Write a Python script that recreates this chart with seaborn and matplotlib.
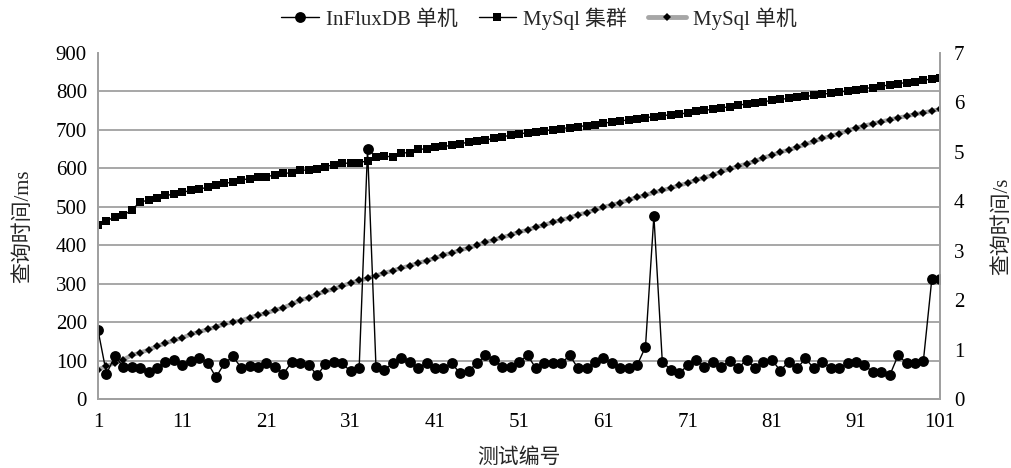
import matplotlib
matplotlib.use("Agg")
import matplotlib.pyplot as plt
from matplotlib.lines import Line2D
from matplotlib.ticker import FixedLocator
import numpy as np
import pandas as pd
import seaborn as sns

# ---------------- data ----------------
test_ids = list(range(1, 102))

influx_ms = [179, 66, 112, 84, 84, 80, 71, 82, 97, 101,
             88, 98, 108, 95, 57, 93, 111, 82, 86, 83,
             93, 84, 66, 96, 93, 90, 62, 91, 97, 93,
             72, 80, 650, 84, 77, 93, 108, 97, 82, 93,
             80, 80, 93, 67, 74, 93, 114, 103, 84, 84,
             97, 114, 80, 94, 93, 93, 114, 80, 80, 97,
             106, 93, 80, 80, 88, 136, 476, 97, 77, 67,
             88, 103, 84, 97, 84, 100, 80, 103, 80, 97,
             103, 74, 97, 80, 106, 80, 97, 82, 80, 93,
             97, 88, 71, 71, 62, 114, 94, 94, 100, 312,
             312]

mysql_cluster_s = [3.52, 3.60, 3.69, 3.72, 3.82, 3.99, 4.02, 4.07, 4.12, 4.14,
                   4.18, 4.22, 4.25, 4.28, 4.32, 4.36, 4.39, 4.43, 4.46, 4.50,
                   4.50, 4.53, 4.57, 4.57, 4.63, 4.63, 4.66, 4.70, 4.74, 4.77,
                   4.77, 4.78, 4.82, 4.89, 4.92, 4.89, 4.98, 4.98, 5.05, 5.06,
                   5.09, 5.11, 5.13, 5.16, 5.20, 5.22, 5.24, 5.27, 5.30, 5.34,
                   5.37, 5.38, 5.41, 5.43, 5.44, 5.47, 5.49, 5.51, 5.53, 5.55,
                   5.58, 5.60, 5.62, 5.65, 5.66, 5.69, 5.71, 5.73, 5.75, 5.76,
                   5.79, 5.82, 5.84, 5.86, 5.89, 5.91, 5.94, 5.97, 5.99, 6.01,
                   6.04, 6.06, 6.08, 6.10, 6.12, 6.14, 6.17, 6.18, 6.21, 6.23,
                   6.25, 6.28, 6.30, 6.33, 6.35, 6.38, 6.40, 6.42, 6.45, 6.47,
                   6.49]

mysql_single_s = [0.60, 0.67, 0.73, 0.80, 0.89, 0.94, 1.00, 1.07, 1.13, 1.19,
                  1.24, 1.31, 1.36, 1.41, 1.46, 1.52, 1.56, 1.59, 1.65, 1.70,
                  1.74, 1.80, 1.85, 1.92, 2.00, 2.05, 2.12, 2.18, 2.23, 2.29,
                  2.35, 2.40, 2.44, 2.50, 2.55, 2.60, 2.65, 2.70, 2.75, 2.80,
                  2.85, 2.91, 2.96, 3.01, 3.06, 3.11, 3.17, 3.22, 3.27, 3.32,
                  3.38, 3.42, 3.48, 3.52, 3.58, 3.62, 3.67, 3.73, 3.77, 3.83,
                  3.88, 3.93, 3.97, 4.03, 4.08, 4.12, 4.18, 4.22, 4.27, 4.32,
                  4.37, 4.43, 4.48, 4.53, 4.60, 4.65, 4.71, 4.76, 4.81, 4.88,
                  4.93, 4.99, 5.04, 5.09, 5.15, 5.21, 5.27, 5.32, 5.37, 5.43,
                  5.48, 5.53, 5.57, 5.61, 5.65, 5.69, 5.72, 5.76, 5.79, 5.83,
                  5.86]

x_ticks = [1, 11, 21, 31, 41, 51, 61, 71, 81, 91, 101]
left_ticks = [0, 100, 200, 300, 400, 500, 600, 700, 800, 900]
right_ticks = [0, 1, 2, 3, 4, 5, 6, 7]

series_names = ["InFluxDB 单机", "MySql 集群", "MySql 单机"]
x_label = "测试编号"
left_label = "查询时间/ms"
right_label = "查询时间/s"

df = pd.DataFrame({"id": test_ids, "influx": influx_ms,
                   "cluster": mysql_cluster_s, "single": mysql_single_s})

# ---------------- style ----------------
sns.set_style("white")
plt.rcParams["font.family"] = ["Liberation Serif", "Noto Sans CJK SC"]
plt.rcParams["axes.unicode_minus"] = False

FS = 15
GRID = "#a0a0a0"

fig = plt.figure(figsize=(10.11, 4.68), dpi=100)
ax = fig.add_axes([0.097, 0.147, 0.833, 0.740])
ax2 = ax.twinx()

# MySql series on right axis (seconds)
sns.lineplot(data=df, x="id", y="single", ax=ax2, color="#a6a6a6", lw=3.0,
             marker="D", markersize=4.4, markerfacecolor="black",
             markeredgecolor="black", markeredgewidth=0)
sns.lineplot(data=df, x="id", y="cluster", ax=ax2, color="black", lw=1.0,
             marker="s", markersize=5.6, markerfacecolor="black",
             markeredgecolor="black", markeredgewidth=0)
# InFluxDB on left axis (ms)
sns.lineplot(data=df, x="id", y="influx", ax=ax, color="black", lw=1.0,
             marker="o", markersize=7.8, markerfacecolor="black",
             markeredgecolor="black", markeredgewidth=0)

# put InFlux above the MySql axes
ax.set_zorder(ax2.get_zorder() + 1)
ax.patch.set_visible(False)

ax.set_xlim(1, 101)
ax.set_ylim(0, 900)
ax2.set_ylim(0, 7)
ax.set_xticks(x_ticks)
ax.set_yticks(left_ticks)
ax2.set_yticks(right_ticks)

# gridlines (at left-axis hundreds) drawn on the lower axes
ax.grid(False)
ax2.grid(False)
ax2.yaxis.set_minor_locator(FixedLocator([v * 7 / 900 for v in left_ticks]))
ax2.grid(which="minor", axis="y", color=GRID, lw=1.3)
ax2.tick_params(which="minor", length=0)

for a in (ax, ax2):
    for s in a.spines.values():
        s.set_color(GRID)
        s.set_linewidth(1.3)
    a.spines["top"].set_visible(False)
    a.tick_params(length=0, labelsize=FS, colors="black")
ax.tick_params(axis="y", pad=8)
ax2.tick_params(axis="y", pad=10)
ax.tick_params(axis="x", pad=10)

ax.set_xlabel(x_label, fontsize=FS, labelpad=12)
ax.set_ylabel(left_label, fontsize=FS, labelpad=16)
ax2.set_ylabel(right_label, fontsize=FS, labelpad=20)

handles = [
    Line2D([], [], color="black", lw=1.0, marker="o", markersize=7.8,
           markeredgewidth=0),
    Line2D([], [], color="black", lw=1.0, marker="s", markersize=5.6,
           markeredgewidth=0),
    Line2D([], [], color="#a6a6a6", lw=3.5, marker="D", markersize=4.4,
           markerfacecolor="black", markeredgewidth=0),
]
fig.legend(handles, series_names, loc="upper center",
           bbox_to_anchor=(0.533, 1.025), ncol=3, frameon=False,
           fontsize=FS, handlelength=1.8, handletextpad=0.35,
           columnspacing=1.0)

fig.savefig("out.png", dpi=100)
